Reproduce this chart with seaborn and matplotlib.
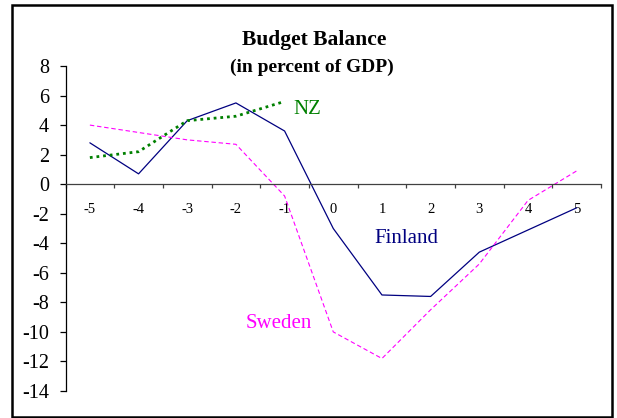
import numpy as np
import pandas as pd
import seaborn as sns
import matplotlib.pyplot as plt
from matplotlib.patches import Rectangle

# years relative to crisis
years = [-5, -4, -3, -2, -1, 0, 1, 2, 3, 4, 5]
finland = [2.8, 0.7, 4.3, 5.5, 3.6, -3.0, -7.5, -7.6, -4.6, -3.1, -1.6]
sweden = [4.0, 3.5, 3.0, 2.7, -0.8, -10.0, -11.8, -8.5, -5.4, -1.1, 0.9]
nz_years = [-5, -4, -3, -2, -1]
nz = [1.8, 2.2, 4.3, 4.6, 5.6]

sns.set_style("white")
plt.rcParams['font.family'] = ['Liberation Serif', 'DejaVu Serif']
plt.rcParams['axes.unicode_minus'] = False
plt.rcParams['text.color'] = 'black'
plt.rcParams['xtick.color'] = 'black'
plt.rcParams['ytick.color'] = 'black'

fig = plt.figure(figsize=(6.17, 4.18), dpi=100)
ax = fig.add_axes([0.1062, 0.0646, 0.8679, 0.7775])

sns.lineplot(x=years, y=finland, color="#000080", lw=0.9, ax=ax)
sns.lineplot(x=years, y=sweden, color="#FF00FF", lw=0.8, ax=ax)
ax.lines[-1].set_dashes([4, 2.5])
sns.lineplot(x=nz_years, y=nz, color="#008000", lw=2.0, ax=ax)
ax.lines[-1].set_dashes([1, 1.4])

ax.set_xlim(-5.5, 5.5)
ax.set_ylim(-14, 8)
ax.set_yticks(np.arange(-14, 9, 2))
ax.set_xticks(np.arange(-5.5, 6, 1))
ax.set_xticklabels([])
ax.set_xticks(years, minor=True)
ax.set_xticklabels([str(y) for y in years], minor=True)

ax.spines['top'].set_visible(False)
ax.spines['right'].set_visible(False)
ax.spines['bottom'].set_position(('data', 0))
ax.spines['bottom'].set_color('#404040')
ax.spines['left'].set_color('black')
for s in ['bottom', 'left']:
    ax.spines[s].set_linewidth(0.9)

ax.tick_params(axis='y', which='major', direction='out', length=4.5, width=0.9,
               color='black', pad=7.5, labelsize=14.5, left=True)
ax.tick_params(axis='x', which='major', direction='out', length=3, width=0.9,
               color='#404040', bottom=True)
ax.tick_params(axis='x', which='minor', length=0, pad=13.5, labelsize=10.5)
ax.set_xlabel("")
ax.set_ylabel("")

# series labels
ax.text(-0.53, 5.08, "NZ", color="#008000", fontsize=15, ha='center', va='center')
ax.text(1.51, -3.66, "Finland", color="#000080", fontsize=15, ha='center', va='center')
ax.text(-1.12, -9.42, "Sweden", color="#FF00FF", fontsize=15, ha='center', va='center')

fig.text(0.51, 1 - 40 / 418, "Budget Balance", fontsize=15.5, fontweight='bold',
         ha='center', va='center')
fig.text(0.505, 1 - 67 / 418, "(in percent of GDP)", fontsize=14, fontweight='bold',
         ha='center', va='center')

# chart border
fig.patches.append(Rectangle((11.5 / 617, 1 - 417 / 418), 600 / 617, 412 / 418,
                             transform=fig.transFigure, fill=False,
                             edgecolor='black', lw=1.8))

plt.savefig("out.png", dpi=100)
